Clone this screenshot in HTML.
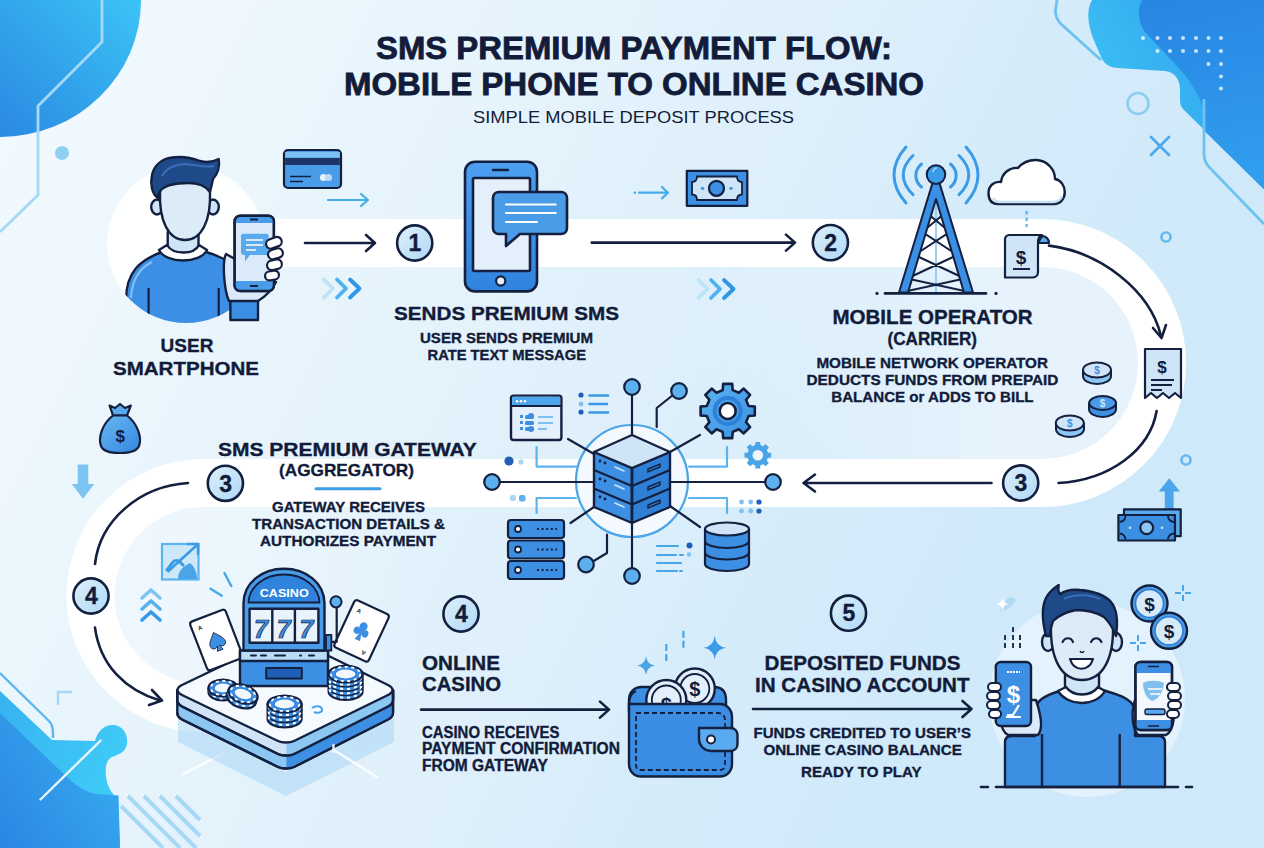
<!DOCTYPE html>
<html><head><meta charset="utf-8">
<style>
html,body{margin:0;padding:0;width:1264px;height:848px;overflow:hidden;background:#e3f1fb;}
svg{display:block;}
text{font-family:"Liberation Sans",sans-serif;fill:#121c3a;}
.b{font-weight:bold;stroke:#121c3a;stroke-width:0.35;}
</style></head>
<body>
<svg width="1264" height="848" viewBox="0 0 1264 848">
<defs>
  <linearGradient id="bg" x1="0" y1="0" x2="1144" y2="572" gradientUnits="userSpaceOnUse">
    <stop offset="0" stop-color="#f3fafe"/>
    <stop offset="0.18" stop-color="#edf7fd"/>
    <stop offset="0.45" stop-color="#e3f2fb"/>
    <stop offset="0.62" stop-color="#ddeffb"/>
    <stop offset="0.76" stop-color="#d4ebfa"/>
    <stop offset="1" stop-color="#cee9fa"/>
  </linearGradient>
  <linearGradient id="blobTL" x1="140" y1="0" x2="0" y2="140" gradientUnits="userSpaceOnUse">
    <stop offset="0" stop-color="#3cc3f6"/>
    <stop offset="1" stop-color="#2a88e2"/>
  </linearGradient>
  <linearGradient id="blobTR" x1="1090" y1="120" x2="1264" y2="20" gradientUnits="userSpaceOnUse">
    <stop offset="0" stop-color="#3dc3f5"/>
    <stop offset="1" stop-color="#2f9ded"/>
  </linearGradient>
  <linearGradient id="blobBL" x1="0" y1="700" x2="120" y2="760" gradientUnits="userSpaceOnUse">
    <stop offset="0" stop-color="#38b3f0"/>
    <stop offset="1" stop-color="#3ecaf7"/>
  </linearGradient>
  <linearGradient id="phoneG" x1="0" y1="0" x2="0" y2="1">
    <stop offset="0" stop-color="#4d9ff0"/>
    <stop offset="1" stop-color="#2f83dd"/>
  </linearGradient>
  <linearGradient id="numG" x1="0" y1="0" x2="1" y2="1">
    <stop offset="0" stop-color="#dcf0fc"/>
    <stop offset="1" stop-color="#b0d8f5"/>
  </linearGradient>
  <filter id="soft" x="-10%" y="-10%" width="120%" height="120%"><feGaussianBlur stdDeviation="2.5"/></filter>
</defs>

<!-- background -->
<rect width="1264" height="848" fill="url(#bg)"/>

<!-- top-left blob -->
<ellipse cx="0" cy="0" rx="141" ry="137" fill="url(#blobTL)"/>
<path d="M102 0 V42 L38 106 V195 L0 232" fill="none" stroke="#a6d9f5" stroke-width="2.8" stroke-linejoin="round"/>
<circle cx="62" cy="153" r="7" fill="#8fd0f2"/>

<!-- top-right blob -->
<path d="M1092 0 C1086 10 1088 25 1093 38 L1101 57 C1104 64 1110 68 1118 68 L1165 71 C1175 72 1180 80 1180 90 L1180 100 C1180 104 1181 107 1183 109 L1264 189 V0 Z" fill="url(#blobTR)"/>
<defs><linearGradient id="blobTR2" x1="1200" y1="0" x2="1240" y2="180" gradientUnits="userSpaceOnUse"><stop offset="0" stop-color="#2887e3"/><stop offset="1" stop-color="#319eee"/></linearGradient></defs>
<path d="M1142 0 C1137 10 1138 22 1145 32 L1175 64 C1190 80 1200 95 1204 112 L1204 130.5 L1264 189.5 V0 Z" fill="url(#blobTR2)"/>
<path d="M1057 0 L1055.5 10 C1055 15 1057 19 1060 23 L1101 60" fill="none" stroke="#6cc3f2" stroke-width="2.8"/>
<path d="M1204 99 V154 C1204 160 1206 164 1210 168 L1264 224" fill="none" stroke="#6cc3f2" stroke-width="2.8"/>
<g fill="#ffffff" opacity="0.75">
  <circle cx="1143" cy="38" r="2"/><circle cx="1157.5" cy="38" r="2"/><circle cx="1170" cy="38" r="2"/><circle cx="1183" cy="38" r="2"/><circle cx="1196" cy="38" r="2"/><circle cx="1208.5" cy="38" r="2"/><circle cx="1221" cy="38" r="2"/>
  <circle cx="1157.5" cy="51" r="2"/><circle cx="1170" cy="51" r="2"/><circle cx="1183" cy="51" r="2"/><circle cx="1196" cy="51" r="2"/><circle cx="1208.5" cy="51" r="2"/><circle cx="1221" cy="51" r="2"/>
  <circle cx="1208.5" cy="64" r="2"/><circle cx="1221" cy="64" r="2"/>
  <circle cx="1221" cy="76.5" r="2"/><circle cx="1221" cy="88.4" r="2"/>
</g>
<circle cx="1138" cy="103.5" r="10.5" fill="none" stroke="#8ccdf2" stroke-width="2.6"/>
<path d="M1151 137 L1169 155 M1169 137 L1151 155" stroke="#4aa8e6" stroke-width="2.6" stroke-linecap="round"/>
<circle cx="1166" cy="237" r="4.6" fill="none" stroke="#5db5ec" stroke-width="2.4"/>
<circle cx="1186" cy="460" r="4.6" fill="none" stroke="#5db5ec" stroke-width="2.4"/>

<!-- bottom-left blob -->
<path d="M0 691 L52 740 L95 741 C98 729 106 724 115 725 C124 727 128 735 127 744 C126 751 119 755 112 757 C106 760 105 768 106 776 C107 787 112 793 118 800 L120 848 H0 Z" fill="url(#blobBL)"/>
<defs><linearGradient id="blobBL2" x1="0" y1="848" x2="110" y2="780" gradientUnits="userSpaceOnUse"><stop offset="0" stop-color="#2a86e2"/><stop offset="1" stop-color="#36a6ef"/></linearGradient></defs>
<path d="M0 713 L66 776 C74 784 84 792 96 794 L118.5 795.5 L120 848 H0 Z" fill="url(#blobBL2)"/>
<path d="M0 673 L49 721 C52 724 53 728 53 733 V738" fill="none" stroke="#5bb8ee" stroke-width="2.4"/>
<path d="M40.5 799.5 L100.6 740.6" stroke="#e8f7fe" stroke-width="2.4" stroke-linecap="round"/>
<path d="M58 705 V692 H72" fill="none" stroke="#a9d6f3" stroke-width="2.4"/>
<g stroke="#9dd4f4" stroke-width="4" opacity="0.85">
  <path d="M121 806 L163 848 M128 796 L180 848 M144 796 L196 848 M160 796 L200 836 M176 796 L200 820"/>
</g>
<path d="M183 774 L224.5 753" stroke="#ffffff" stroke-width="2.4" stroke-linecap="round" opacity="0.9"/>

<!-- loop interior light fill -->
<defs>
  <linearGradient id="loopG" x1="700" y1="0" x2="1000" y2="0" gradientUnits="userSpaceOnUse">
    <stop offset="0" stop-color="#e8f4fc" stop-opacity="0"/>
    <stop offset="1" stop-color="#e6f3fc" stop-opacity="1"/>
  </linearGradient>
  <linearGradient id="loopL" x1="420" y1="0" x2="150" y2="0" gradientUnits="userSpaceOnUse">
    <stop offset="0" stop-color="#eef7fd" stop-opacity="0"/>
    <stop offset="1" stop-color="#eef7fd" stop-opacity="1"/>
  </linearGradient>
</defs>
<path d="M600 260 H1042 A103 103 0 0 1 1042 466 H600 Z" fill="url(#loopG)"/>
<path d="M450 500 H203 A96 96 0 0 0 203 692 H450 Z" fill="url(#loopL)"/>
<!-- white flow band -->
<path d="M265 243 H1042 A120 120 0 0 1 1042 483 H203 A112 112 0 0 0 203 708 H270" fill="none" stroke="#ffffff" stroke-width="48" opacity="1"/>
<!-- white circle behind user -->
<circle cx="186" cy="244" r="79" fill="#ffffff" opacity="0.95"/>
<!-- light circle behind user 2 -->
<circle cx="1087" cy="699" r="98" fill="#e6f3fc" opacity="0.85"/>

<!-- TITLE -->
<text class="b" x="376" y="59" font-size="31" style="stroke-width:0.8" textLength="516" lengthAdjust="spacingAndGlyphs">SMS PREMIUM PAYMENT FLOW:</text>
<text class="b" x="344" y="94.5" font-size="31" style="stroke-width:0.8" textLength="580" lengthAdjust="spacingAndGlyphs">MOBILE PHONE TO ONLINE CASINO</text>
<text x="473" y="123" font-size="17" textLength="321" lengthAdjust="spacingAndGlyphs">SIMPLE MOBILE DEPOSIT PROCESS</text>

<!-- labels -->
<text class="b" x="187" y="352" font-size="19" text-anchor="middle">USER</text>
<text class="b" x="113" y="374.5" font-size="19" textLength="146" lengthAdjust="spacingAndGlyphs">SMARTPHONE</text>

<text class="b" x="394" y="320" font-size="18.6" textLength="225" lengthAdjust="spacingAndGlyphs">SENDS PREMIUM SMS</text>
<text class="b" x="420" y="343.4" font-size="15.2" textLength="173" lengthAdjust="spacingAndGlyphs">USER SENDS PREMIUM</text>
<text class="b" x="427.5" y="359.8" font-size="15.2" textLength="158.5" lengthAdjust="spacingAndGlyphs">RATE TEXT MESSAGE</text>

<text class="b" x="832.4" y="324.4" font-size="20.2" textLength="200.3" lengthAdjust="spacingAndGlyphs">MOBILE OPERATOR</text>
<text class="b" x="887.5" y="345" font-size="17.6" textLength="89.5" lengthAdjust="spacingAndGlyphs">(CARRIER)</text>
<text class="b" x="816.4" y="367.5" font-size="15.2" textLength="231.6" lengthAdjust="spacingAndGlyphs">MOBILE NETWORK OPERATOR</text>
<text class="b" x="806.5" y="384.5" font-size="15.2" textLength="251.9" lengthAdjust="spacingAndGlyphs">DEDUCTS FUNDS FROM PREPAID</text>
<text class="b" x="831.3" y="401.7" font-size="15.2" textLength="202.3" lengthAdjust="spacingAndGlyphs">BALANCE or ADDS TO BILL</text>

<text class="b" x="218" y="455.6" font-size="19" textLength="258.8" lengthAdjust="spacingAndGlyphs">SMS PREMIUM GATEWAY</text>
<text class="b" x="279" y="476" font-size="17" textLength="135" lengthAdjust="spacingAndGlyphs">(AGGREGATOR)</text>
<path d="M316 488.7 H380" stroke="#3a9fe6" stroke-width="3" stroke-linecap="round"/>
<text class="b" x="272" y="512" font-size="14.7" textLength="153" lengthAdjust="spacingAndGlyphs">GATEWAY RECEIVES</text>
<text class="b" x="252" y="529" font-size="14.7" textLength="193" lengthAdjust="spacingAndGlyphs">TRANSACTION DETAILS &amp;</text>
<text class="b" x="260" y="545.6" font-size="14.7" textLength="176" lengthAdjust="spacingAndGlyphs">AUTHORIZES PAYMENT</text>

<text class="b" x="422" y="669.7" font-size="19.8" textLength="78" lengthAdjust="spacingAndGlyphs">ONLINE</text>
<text class="b" x="422" y="691" font-size="19.8" textLength="79" lengthAdjust="spacingAndGlyphs">CASINO</text>
<text class="b" x="422" y="737.5" font-size="15.6" textLength="137.5" lengthAdjust="spacingAndGlyphs">CASINO RECEIVES</text>
<text class="b" x="422" y="754.3" font-size="15.6" textLength="198" lengthAdjust="spacingAndGlyphs">PAYMENT CONFIRMATION</text>
<text class="b" x="422" y="771.4" font-size="15.6" textLength="126" lengthAdjust="spacingAndGlyphs">FROM GATEWAY</text>

<text class="b" x="764.6" y="669.5" font-size="19.8" textLength="195.9" lengthAdjust="spacingAndGlyphs">DEPOSITED FUNDS</text>
<text class="b" x="755" y="692" font-size="19.8" textLength="214.6" lengthAdjust="spacingAndGlyphs">IN CASINO ACCOUNT</text>
<text class="b" x="753.5" y="737.8" font-size="15.2" textLength="217.5" lengthAdjust="spacingAndGlyphs">FUNDS CREDITED TO USER’S</text>
<text class="b" x="763.4" y="755" font-size="15.2" textLength="198.4" lengthAdjust="spacingAndGlyphs">ONLINE CASINO BALANCE</text>
<text class="b" x="801" y="776.7" font-size="15.2" textLength="120.6" lengthAdjust="spacingAndGlyphs">READY TO PLAY</text>


<!-- ===== USER 1 ===== -->
<defs><clipPath id="c1"><circle cx="186" cy="244" r="79"/></clipPath></defs>
<g clip-path="url(#c1)" stroke="#14203f" stroke-width="2.4" stroke-linejoin="round">
  <path d="M126 330 V300 C126 272 140 260 162 252 L206 252 C226 258 238 266 244 280 V330 Z" fill="#3d8fe6"/>
  <path d="M131 298 C132 278 140 268 152 262" fill="none" stroke="#8cc6f4" stroke-width="2" opacity="0.9"/>
  <path d="M148.6 288 V320 M218.7 288 V320" fill="none" stroke-width="2.2"/>
</g>
<g stroke="#14203f" stroke-width="2.4" stroke-linejoin="round">
  <path d="M167.7 232 V250 C175 256 192 256 198.5 250 V232 Z" fill="#cfe4f7"/>
  <path d="M159 250 C166 264 200 264 207 250 L199 245 C194 255 173 255 167 245 Z" fill="#ffffff"/>
  <ellipse cx="157" cy="207" rx="5.8" ry="7.5" fill="#cfe4f7"/>
  <ellipse cx="213" cy="207" rx="5.8" ry="7.5" fill="#cfe4f7"/>
  <path d="M160 192 C159 220 168 240 185 240 C202 240 211 220 210 192 C208 182 198 178 185 178 C172 178 162 182 160 192 Z" fill="#dcebf8"/>
  <path d="M158 198 C152 194 150 184 152 175 C154 165 162 159 172 157.5 C182 156 192 158 200 161 C207 163 213 162 218.7 159 C220 166 218 174 213 179 C212 184 211 188 210 192 C206 186 198 183 188 183 C176 183 166 185 161 190 C159 192 158 195 158 198 Z" fill="#1f4a8a"/>
  <path d="M162 176 C166 168 176 164 186 164 C196 165 205 168 214 166" fill="none" stroke="#3a6fb8" stroke-width="2"/>
</g>
<!-- phone in hand -->
<g stroke="#14203f" stroke-width="2.4" stroke-linejoin="round">
  <path d="M230.4 300 H258 V320 H230.4 Z" fill="#3d8fe6"/>
  <path d="M226 254 C222 262 224 290 229 301 H258 C266 296 272 290 276 282 Z" fill="#dbeafa"/>
  <rect x="234.6" y="215.8" width="39.3" height="75.2" rx="5.5" fill="#dbeafa"/>
  <path d="M234.6 223 V221.3 C234.6 218 237 215.8 240 215.8 H268.4 C271.5 215.8 273.9 218 273.9 221.3 V223 Z" fill="#4a9be8" stroke="none"/>
  <path d="M234.6 281 H273.9 V285.5 C273.9 288.5 271.5 291 268.4 291 H240 C237 291 234.6 288.5 234.6 285.5 Z" fill="#4a9be8" stroke="none"/>
  <rect x="234.6" y="215.8" width="39.3" height="75.2" rx="5.5" fill="none"/>
  <path d="M250 219.5 H258 M250 286 H258" stroke-width="1.8"/>
  <path d="M241 236 C241 234.5 242 233.8 243.5 233.8 H266 C267.5 233.8 268.6 234.5 268.6 236 V252.5 C268.6 254 267.5 255 266 255 H250 L245 261.4 V255 H243.5 C242 255 241 254 241 252.5 Z" fill="#5aaaf0" stroke="none"/>
  <path d="M246 240 H263 M246 245 H263 M246 250 H256" stroke="#ffffff" stroke-width="1.6"/>
  <rect x="266" y="238" width="16" height="9.5" rx="4.75" fill="#ffffff" transform="rotate(-20 274 243)" stroke-width="2.2"/>
  <rect x="268" y="249" width="15" height="9.5" rx="4.75" fill="#ffffff" transform="rotate(-15 275.5 254)" stroke-width="2.2"/>
  <rect x="267" y="260" width="15" height="9.5" rx="4.75" fill="#ffffff" transform="rotate(-12 274.5 265)" stroke-width="2.2"/>
  <rect x="265" y="271" width="14" height="9" rx="4.5" fill="#ffffff" transform="rotate(-10 272 275.5)" stroke-width="2.2"/>
</g>

<!-- card icon -->
<g stroke="#14203f" stroke-width="2.2" stroke-linejoin="round">
  <rect x="284" y="150" width="57" height="38" rx="4" fill="#4a9be8"/>
  <rect x="285.2" y="152" width="54.6" height="5.5" fill="#7cc0f4" stroke="none"/>
  <rect x="285.2" y="158" width="54.6" height="7" fill="#1d3566" stroke="none"/>
  <path d="M290 176.5 H311 M290 181.5 H303" stroke-width="1.6"/>
  <circle cx="323.5" cy="177.5" r="3.6" fill="#e6f3fd" stroke="none"/>
  <circle cx="328.5" cy="177.5" r="3.6" fill="#b9dbf6" stroke="none"/>
</g>
<!-- light arrow + chevrons row 1 -->
<path d="M328 200 H368 M361 194 L368 200 L361 206" fill="none" stroke="#45ade9" stroke-width="2.2" stroke-linecap="round" stroke-linejoin="round"/>
<g fill="none" stroke-width="3.8" stroke-linecap="round" stroke-linejoin="round">
  <path d="M324 279.5 L333 288.5 L324 297.5" stroke="#bde3f7"/>
  <path d="M337 279.5 L346 288.5 L337 297.5" stroke="#4db3ee"/>
  <path d="M350 279.5 L359.5 288.5 L350 297.5" stroke="#2f97e6"/>
</g>
<!-- dark arrow 1 -->
<path d="M305 243 H375 M366 235 L375 243 L366 251" fill="none" stroke="#14203f" stroke-width="2.6" stroke-linecap="round" stroke-linejoin="round"/>


<!-- number circles -->
<g stroke="#14203f" stroke-width="2.6" fill="url(#numG)">
  <circle cx="414.7" cy="243" r="17.6"/>
  <circle cx="830.4" cy="242.6" r="17.6"/>
  <circle cx="1020.7" cy="483" r="17.6"/>
  <circle cx="225.4" cy="483.3" r="17.6"/>
  <circle cx="91" cy="596" r="17.6"/>
  <circle cx="461" cy="614" r="17.6"/>
  <circle cx="848.5" cy="613.2" r="17.6"/>
</g>
<g class="b" font-size="23" text-anchor="middle" style="font-weight:bold">
  <text x="415" y="251" font-weight="bold">1</text>
  <text x="830.7" y="250.8" font-weight="bold">2</text>
  <text x="1021" y="491.2" font-weight="bold">3</text>
  <text x="225.7" y="491.5" font-weight="bold">3</text>
  <text x="91.3" y="604.2" font-weight="bold">4</text>
  <text x="461.3" y="622.2" font-weight="bold">4</text>
  <text x="848.8" y="621.4" font-weight="bold">5</text>
</g>

<!-- PHONE 1 -->
<g stroke="#14203f" stroke-width="2.6" stroke-linejoin="round">
  <rect x="465" y="161.7" width="72" height="129.7" rx="10" fill="url(#phoneG)"/>
  <rect x="473" y="178" width="57" height="93" rx="1.5" fill="#e3f0fb"/>
  <path d="M493 170 H508" stroke-width="2.4" stroke-linecap="round"/>
  <circle cx="500.7" cy="281" r="4.6" fill="#e3f0fb" stroke-width="2.2"/>
  <path d="M499 192 H561 C564.5 192 567 194.5 567 198 V228 C567 231.5 564.5 234 561 234 H520 L506 246 V234 H499 C495.5 234 493 231.5 493 228 V198 C493 194.5 495.5 192 499 192 Z" fill="#4a9be8"/>
  <path d="M506 204.5 H555.7 M506 213 H555.7 M506 222 H537" stroke="#ffffff" stroke-width="2.2" stroke-linecap="round"/>
</g>
<!-- dark arrow 2 -->
<path d="M591.7 242.6 H795 M786 234.6 L795 242.6 L786 250.6" fill="none" stroke="#14203f" stroke-width="2.6" stroke-linecap="round" stroke-linejoin="round"/>
<!-- money bill -->
<g stroke="#14203f" stroke-width="2.2" stroke-linejoin="round">
  <rect x="686.8" y="170.9" width="60.5" height="34.9" fill="#3d8fe3"/>
  <path d="M697 176.5 H737 C737 180 739 182 742 182 V194.5 C739 194.5 737 196.5 737 200 H697 C697 196.5 695 194.5 692 194.5 V182 C695 182 697 180 697 176.5 Z" fill="#cfe5f7" stroke-width="1.8"/>
  <circle cx="716.5" cy="188.3" r="7.5" fill="#3d8fe3"/>
  <circle cx="702.5" cy="188.3" r="1.6" fill="#3d8fe3" stroke="none"/>
  <circle cx="731" cy="188.3" r="1.6" fill="#3d8fe3" stroke="none"/>
</g>
<path d="M639 192.7 H668 M662 187 L668 192.7 L662 198.4" fill="none" stroke="#45ade9" stroke-width="2.2" stroke-linecap="round" stroke-linejoin="round"/>
<circle cx="634.8" cy="192.7" r="1.3" fill="#45ade9"/>
<g fill="none" stroke-width="3.8" stroke-linecap="round" stroke-linejoin="round">
  <path d="M698.5 280 L707.5 289 L698.5 298" stroke="#bde3f7"/>
  <path d="M711 280 L720 289 L711 298" stroke="#4db3ee"/>
  <path d="M724 280 L733.5 289 L724 298" stroke="#2f97e6"/>
</g>

<!-- TOWER -->
<g fill="none" stroke="#3b9be8" stroke-width="3" stroke-linecap="round">
  <path d="M906 147 C890 165 890 185 906 203"/>
  <path d="M913 155.5 C900 168 900 182 913 194.7"/>
  <path d="M921.5 164 C914 170 914 181 921.5 187"/>
  <path d="M966 147 C982 165 982 185 966 203"/>
  <path d="M959 155.5 C972 168 972 182 959 194.7"/>
  <path d="M950.5 164 C958 170 958 181 950.5 187"/>
</g>
<path d="M936 186 V292" stroke="#8fcaf2" stroke-width="1.8"/>
<path d="M927.8 213.8 L949.9 231.9 M944.2 213.8 L922.1 231.9 M922.1 231.9 L957.3 255 M949.9 231.9 L914.7 255 M914.7 255 L964.7 278.5 M957.3 255 L907.3 278.5 M907.3 278.5 L969.0 292 M964.7 278.5 L903.0 292 M933.5 196 L944.2 213.8 M938.5 196 L927.8 213.8 " stroke="#14203f" stroke-width="2" fill="none" stroke-linecap="round"/>
<g stroke="#14203f" stroke-width="2" stroke-linejoin="round">
  <path d="M932.5 183 L899 292.5 H908 L936 199 L964 292.5 H973 L939.5 183 Z" fill="#3b8fe4"/>
  <circle cx="936" cy="174.6" r="9.3" fill="#3b9be8"/>
</g>
<path d="M933 172 C933 170 935 168 937 168" stroke="#9fd4f6" stroke-width="1.6" fill="none"/>
<path d="M885 293.4 H986" stroke="#14203f" stroke-width="2.6" stroke-linecap="round"/>
<circle cx="877" cy="293.4" r="1.6" fill="#14203f"/><circle cx="996" cy="293.4" r="1.6" fill="#14203f"/>

<!-- cloud -->
<path d="M998 204 C990 204 988.5 198 988.5 193 C988.5 186 994 181 1001 182 C1002 173 1010 167 1018 168 C1023 162 1030 159.7 1037 160 C1048 161 1055 170 1055 179 C1061 180 1064.8 186 1064.8 192 C1064.8 199 1060 204 1054 204 Z" fill="#ffffff" stroke="#14203f" stroke-width="2.4" stroke-linejoin="round"/>
<path d="M993 198 C995 202 998 202 1003 202 H1054 C1058 202 1061 199 1062 196" fill="none" stroke="#c5e1f6" stroke-width="2.5"/>
<path d="M1026.6 211 V227" stroke="#45ade9" stroke-width="2" stroke-dasharray="3.5 3"/>
<!-- receipt 1 -->
<g stroke="#14203f" stroke-width="2.2" stroke-linejoin="round">
  <path d="M1042 236 C1046 236 1049 239 1049 243 H1038 Z" fill="#5aaaf0"/>
  <path d="M1009 235 H1042 C1038 236 1038 240 1038 243 V272 C1038 275 1036 277.5 1033 277.5 H1005 V239 C1005 237 1007 235 1009 235 Z" fill="#cfe5f7"/>
  <path d="M1013 269 H1030" stroke-width="2"/>
</g>
<text x="1021" y="264" font-size="19" text-anchor="middle" font-weight="bold">$</text>
<!-- curved arrows right -->
<path d="M1049 245.6 C1100 252 1150 290 1161 336" fill="none" stroke="#14203f" stroke-width="2.6" stroke-linecap="round"/>
<path d="M1153 328 L1161.5 338 L1166 325" fill="none" stroke="#14203f" stroke-width="2.6" stroke-linecap="round" stroke-linejoin="round"/>
<path d="M1156.6 411 C1150 450 1110 480 1058.5 483" fill="none" stroke="#14203f" stroke-width="2.6" stroke-linecap="round"/>
<!-- receipt 2 -->
<g stroke="#14203f" stroke-width="2.2" stroke-linejoin="round">
  <path d="M1145 349 H1181 V398 L1175 393 L1169 398 L1163 393 L1157 398 L1151 393 L1145 398 Z" fill="#cfe5f7"/>
  <path d="M1151 380 H1174 M1151 385 H1172 M1151 390 H1162" stroke-width="1.8"/>
</g>
<text x="1162" y="373" font-size="17" text-anchor="middle" font-weight="bold">$</text>
<!-- coins -->
<g stroke="#14203f" stroke-width="2" stroke-linejoin="round">
  <path d="M1083 370 V376 C1083 380.5 1089 384 1097 384 C1105 384 1111 380.5 1111 376 V370" fill="#8cc6f2"/>
  <ellipse cx="1097" cy="370" rx="14" ry="7.5" fill="#cfe5f7"/>
  <path d="M1089 403 V409 C1089 413.5 1095 417 1102.6 417 C1110 417 1116 413.5 1116 409 V403" fill="#3d8fe3"/>
  <ellipse cx="1102.6" cy="403" rx="13.5" ry="7" fill="#4a9be8"/>
  <path d="M1056 423 V429 C1056 433.5 1062 437 1069.8 437 C1077.5 437 1084 433.5 1084 429 V423" fill="#8cc6f2"/>
  <ellipse cx="1069.8" cy="423" rx="14" ry="7.5" fill="#cfe5f7"/>
</g>
<g font-size="10" text-anchor="middle" font-weight="bold" style="fill:#3d8fe3">
  <text x="1097" y="373.5" style="fill:#3d8fe3">$</text>
  <text x="1102.6" y="406.5" style="fill:#cfe5f7">$</text>
  <text x="1069.8" y="426.5" style="fill:#3d8fe3">$</text>
</g>


<!-- ===== GATEWAY HUB ===== -->
<circle cx="632" cy="481" r="56" fill="#f3f9fe" stroke="#4aa5e8" stroke-width="2.2"/>
<!-- light L connectors -->
<g fill="none" stroke="#5fb3ec" stroke-width="2.2" stroke-linecap="round" stroke-linejoin="round">
  <path d="M536.6 447 V466.6 H576"/>
  <path d="M536.6 513 V498 H576"/>
  <path d="M727 447 V466.6 H689"/>
  <path d="M727 513 V498 H689"/>
</g>
<g fill="none" stroke="#14203f" stroke-width="2.2" stroke-linecap="round" stroke-linejoin="round">
  <path d="M632 395 V436"/>
  <path d="M632 523 V568"/>
  <path d="M500 482 H594"/>
  <path d="M670 482 H765"/>
  <path d="M568 439 L594 454"/>
  <path d="M700 435 L670 452"/>
  <path d="M570.5 523 L594 507"/>
  <path d="M700 527 L670 506"/>
  <path d="M656.7 427 V408 L673 395"/>
  <path d="M607 534.5 V553 L592 562"/>
</g>
<g stroke="#14203f" stroke-width="2.2" fill="#5db0ee">
  <circle cx="632" cy="387" r="7.8"/>
  <circle cx="679" cy="391" r="7.8"/>
  <circle cx="492" cy="482" r="7.8"/>
  <circle cx="773" cy="482" r="7.8"/>
  <circle cx="586" cy="564.5" r="7.8"/>
  <circle cx="632" cy="576" r="7.8"/>
</g>
<!-- isometric server stack -->
<g stroke="#14203f" stroke-width="2.4" stroke-linejoin="round">
  <path d="M594 452 V507 L632 523 V468 Z" fill="#3d8fe3"/>
  <path d="M670 452 V507 L632 523 V468 Z" fill="#2f7fd6"/>
  <path d="M632 435 L670 452 L632 468 L594 452 Z" fill="#cfe5f7"/>
  <path d="M594 470 L632 486 L670 470 M594 488.5 L632 504.5 L670 488.5" fill="none"/>
  <path d="M632 468 V523" fill="none"/>
</g>
<g fill="#14203f">
  <circle cx="600" cy="461" r="1.4"/><circle cx="605" cy="463" r="1.4"/>
  <circle cx="600" cy="479" r="1.4"/><circle cx="605" cy="481" r="1.4"/>
  <circle cx="600" cy="497" r="1.4"/><circle cx="605" cy="499" r="1.4"/>
</g>
<g stroke="#cfe5f7" stroke-width="1.6" stroke-linecap="round">
  <path d="M615 467 L624 471 M615 485 L624 489 M615 503 L624 507"/>
</g>
<g stroke="#14203f" stroke-width="1.4" fill="none">
  <path d="M648 469 L660 464 V467 L648 472 Z M648 487 L660 482 V485 L648 490 Z M648 505 L660 500 V503 L648 508 Z"/>
</g>
<!-- browser icon -->
<g stroke="#14203f" stroke-width="2" stroke-linejoin="round">
  <rect x="511" y="395.6" width="50.4" height="44.4" rx="2.5" fill="#e4f0fb" stroke-width="2.4"/>
  <path d="M512.2 396.8 H560.2 V406 H512.2 Z" fill="#4aa5ea" stroke="none"/>
  <path d="M511 406 H561.4" />
</g>
<g fill="#ffffff"><circle cx="517" cy="401.3" r="1.3"/><circle cx="521" cy="401.3" r="1.3"/><circle cx="525" cy="401.3" r="1.3"/></g>
<g fill="#3d8fe3">
  <rect x="520" y="415" width="3" height="3"/><rect x="520" y="421" width="3" height="3"/><rect x="520" y="427" width="3" height="3"/>
  <rect x="525" y="415" width="9" height="4" rx="1.5"/><rect x="525" y="421" width="9" height="4" rx="1.5"/><rect x="525" y="427" width="9" height="4" rx="1.5"/><circle cx="531" cy="416" r="3"/><circle cx="531" cy="429" r="3"/>
</g>
<g stroke="#7fc0ef" stroke-width="1.8"><path d="M538 417 H553 M538 423 H553 M538 429 H547"/></g>
<!-- list icon -->
<g fill="#1f5fb5"><circle cx="581" cy="395" r="2.6"/><circle cx="581" cy="412" r="2.6"/></g>
<circle cx="581" cy="404" r="2.4" fill="#7fc0ef"/>
<g stroke="#3a98e4" stroke-width="2.6" stroke-linecap="round"><path d="M589.5 395.5 H608 M589.5 404 H607 M589.5 412.5 H608"/></g>
<!-- gear big -->
<defs><linearGradient id="gearG" x1="0" y1="0" x2="1" y2="1"><stop offset="0" stop-color="#5cb3f0"/><stop offset="1" stop-color="#3a92e4"/></linearGradient></defs>
<path d="M722.7 390.1 L723.2 383.9 L732.2 383.9 L732.7 390.1 L738.9 392.7 L743.7 388.6 L750.1 395.0 L746.0 399.8 L748.6 406.0 L754.8 406.5 L754.8 415.5 L748.6 416.0 L746.0 422.2 L750.1 427.0 L743.7 433.4 L738.9 429.3 L732.7 431.9 L732.2 438.1 L723.2 438.1 L722.7 431.9 L716.5 429.3 L711.7 433.4 L705.3 427.0 L709.4 422.2 L706.8 416.0 L700.6 415.5 L700.6 406.5 L706.8 406.0 L709.4 399.8 L705.3 395.0 L711.7 388.6 L716.5 392.7 Z" fill="url(#gearG)" stroke="#14203f" stroke-width="2.6" stroke-linejoin="round"/>
<circle cx="727.7" cy="411" r="13" fill="none" stroke="#2f80d8" stroke-width="4"/>
<circle cx="727.7" cy="411" r="8" fill="#ffffff" stroke="#14203f" stroke-width="2.6"/>
<!-- gear small -->
<path d="M755.3 445.0 L755.4 441.9 L760.2 441.9 L760.3 445.0 L763.2 446.2 L765.5 444.1 L768.9 447.5 L766.8 449.8 L768.0 452.7 L771.1 452.8 L771.1 457.6 L768.0 457.7 L766.8 460.6 L768.9 462.9 L765.5 466.3 L763.2 464.2 L760.3 465.4 L760.2 468.5 L755.4 468.5 L755.3 465.4 L752.4 464.2 L750.1 466.3 L746.7 462.9 L748.8 460.6 L747.6 457.7 L744.5 457.6 L744.5 452.8 L747.6 452.7 L748.8 449.8 L746.7 447.5 L750.1 444.1 L752.4 446.2 Z" fill="#4aa5e8" stroke="none"/>
<circle cx="757.8" cy="455.2" r="5.3" fill="#eef7fd"/>
<!-- dots near hub -->
<circle cx="509" cy="461" r="4.6" fill="#1f5fb5"/><circle cx="521" cy="462" r="2.6" fill="#a9d6f3"/>
<rect x="510" y="495" width="6" height="6" rx="2" fill="#a9d6f3"/><rect x="519" y="495" width="6.5" height="6.5" rx="2" fill="#5fb3ec"/>
<g fill="#7fc0ef"><circle cx="741.5" cy="502" r="2.4"/><circle cx="750.7" cy="502" r="2.4"/><circle cx="741.5" cy="511" r="2.4"/><circle cx="750.7" cy="511" r="2.4"/></g>
<g fill="#1f5fb5"><circle cx="759" cy="502" r="2.6"/><circle cx="759" cy="511" r="2.6"/></g>
<!-- server rack bottom-left -->
<g stroke="#14203f" stroke-width="2.2" stroke-linejoin="round">
  <rect x="508" y="520" width="56" height="18" rx="3" fill="#3d8fe3"/>
  <rect x="508" y="540.5" width="56" height="18" rx="3" fill="#3d8fe3"/>
  <rect x="508" y="561" width="56" height="18" rx="3" fill="#3d8fe3"/>
  <circle cx="518" cy="529" r="3" fill="#ffffff" stroke-width="1.8"/>
  <circle cx="518" cy="549.5" r="3" fill="#ffffff" stroke-width="1.8"/>
  <circle cx="518" cy="570" r="3" fill="#ffffff" stroke-width="1.8"/>
</g>
<g stroke="#14203f" stroke-width="2" stroke-dasharray="2 2.6"><path d="M537 529 H557 M537 549.5 H557 M537 570 H557"/></g>
<!-- database -->
<g stroke="#14203f" stroke-width="2.2" stroke-linejoin="round">
  <path d="M705 529 V564 C705 568 715 571 727 571 C739 571 749 568 749 564 V529" fill="#3d8fe3"/>
  <path d="M705 541 C705 545 715 548 727 548 C739 548 749 545 749 541 M705 552.5 C705 556.5 715 559.5 727 559.5 C739 559.5 749 556.5 749 552.5" fill="none"/>
  <ellipse cx="727" cy="529" rx="22" ry="6.5" fill="#cfe5f7"/>
</g>
<!-- lines icon bottom -->
<g stroke="#45a6ea" stroke-width="2.2" stroke-linecap="round">
  <path d="M657 546 H678 M657 555 H676 M680 555 H683 M657 563 H681 M657 571 H677 M680 571 H682"/>
</g>
<circle cx="689.5" cy="545.5" r="3" fill="#1f5fb5"/><circle cx="689" cy="554.5" r="2.2" fill="#7fc0ef"/>

<!-- ===== LEFT SIDE ===== -->
<!-- money bag -->
<defs><linearGradient id="bagG" x1="0" y1="0" x2="1" y2="1"><stop offset="0" stop-color="#6ab8f2"/><stop offset="1" stop-color="#3187df"/></linearGradient></defs>
<g stroke="#14203f" stroke-width="2.2" stroke-linejoin="round">
  <path d="M113 415.5 L109.6 405.6 L115 408 L120 404 L125 408 L130.8 405.6 L127 415.5 Z" fill="#5aaaf0"/>
  <path d="M113 415.5 C102 424 98 438 101 446 C103 451 110 453 120 453 C130 453 137 451 139 446 C142 438 138 424 127 415.5 Z" fill="url(#bagG)"/>
</g>
<text x="120.2" y="442" font-size="17" text-anchor="middle" font-weight="bold">$</text>
<!-- light down arrow -->
<path d="M77.7 464.6 H88.3 V484 H94.2 L83 498.8 L71.8 484 H77.7 Z" fill="#7cc4f2"/>
<!-- chart icon -->
<rect x="162" y="544" width="36.5" height="35.5" fill="#cde8f9" stroke="#5ab5ee" stroke-width="2.2"/>
<path d="M178 579 C178 570 184 566 190 563 C194 566 197 572 197 579 Z" fill="#4aa5e8"/>
<path d="M167 570 L173 562 C175 560 178 560 180 562 L183 565" fill="none" stroke="#3e99e6" stroke-width="3" stroke-linecap="round"/>
<path d="M168.5 571 L197 545 M188 544 H198 V554" fill="none" stroke="#3e99e6" stroke-width="2.6" stroke-linecap="round" stroke-linejoin="round"/>
<!-- chevrons up -->
<g fill="none" stroke-width="3.6" stroke-linecap="round" stroke-linejoin="round">
  <path d="M142 598 L151 590 L160 598" stroke="#7cc4f2"/>
  <path d="M142 609 L151 601 L160 609" stroke="#58b1ee"/>
  <path d="M142 620 L151 612 L160 620" stroke="#3799e7"/>
</g>
<!-- left curved arrows -->
<path d="M188 483 C140 486 100 520 95 564" fill="none" stroke="#14203f" stroke-width="2.6" stroke-linecap="round"/>
<path d="M95 627.6 C100 665 125 690 160 700.5" fill="none" stroke="#14203f" stroke-width="2.6" stroke-linecap="round"/>
<path d="M152 690 L162 700.5 L149 705" fill="none" stroke="#14203f" stroke-width="2.6" stroke-linecap="round" stroke-linejoin="round"/>


<!-- ===== CASINO ===== -->
<!-- reflection -->
<path d="M178 718 L286 772 L394 718 V742 L286 796 L178 742 Z" fill="#a9d6f5" opacity="0.55"/>
<!-- platform -->
<g stroke="#14203f" stroke-width="2.4" stroke-linejoin="round">
  <path d="M177.3 690 V712.8 C177.3 716 179 718 182 719.5 L278 767 C282 769 290 769 294 767 L388 719.5 C391 718 393 716 393 712.8 V690 Z" fill="#8cc6f2"/>
  <path d="M286.4 744 V769 L388 719.5 C391 718 393 716 393 712.8 V690 Z" fill="#3d8fe3" stroke="none"/>
  <path d="M177.3 690 V700 C177.3 703 179 705 182 706.5 L278 754 C282 756 290 756 294 754 L388 706.5 C391 705 393 703 393 700 V690" fill="#cfe5f7"/>
  <path d="M286.4 756 V744 L393 690 V700 C393 703 391 705 388 706.5 L294 754 C292 755 290 756 286.4 756 Z" fill="#8cc6f2" stroke="none"/>
  <path d="M177.3 690 V700 C177.3 703 179 705 182 706.5 L278 754 C282 756 290 756 294 754 L388 706.5 C391 705 393 703 393 700 V690" fill="none"/>
  <path d="M177.3 712.8 C177.3 716 179 718 182 719.5 L278 767 C282 769 290 769 294 767 L388 719.5 C391 718 393 716 393 712.8 V690" fill="none"/>
  <path d="M182 685 L278 639 C282 637 290 637 294 639 L388 685 C394 688 394 692 388 695 L294 741 C290 743 282 743 278 741 L182 695 C176 692 176 688 182 685 Z" fill="#f5faff"/>
</g>
<!-- left card -->
<g transform="translate(216 639) rotate(-21)">
  <rect x="-19" y="-25" width="38" height="52" rx="3" fill="#ffffff" stroke="#14203f" stroke-width="2.2"/>
  <text x="-13" y="-14" font-size="6" font-weight="bold">A</text>
  <path d="M0 -7 C-4 -2 -8 1 -8 5 C-8 9 -3 10 -1 7 L-3 12 H3 L1 7 C3 10 8 9 8 5 C8 1 4 -2 0 -7 Z" fill="#3d8fe3" stroke="#14203f" stroke-width="0.8"/>
</g>
<!-- right card -->
<g transform="translate(362 630) rotate(25)">
  <rect x="-19" y="-25" width="38" height="52" rx="3" fill="#ffffff" stroke="#14203f" stroke-width="2.2"/>
  <text x="-13" y="-14" font-size="6" font-weight="bold">A</text>
  <text x="13" y="22" font-size="6" font-weight="bold" transform="rotate(180 13 20)">A</text>
  <path d="M0 -8 C-4 -8 -5 -3 -3 -1 C-7 -3 -9 2 -7 5 C-5 7 -2 6 -1 4 L-3 11 H3 L1 4 C2 6 5 7 7 5 C9 2 7 -3 3 -1 C5 -3 4 -8 0 -8 Z" fill="#3d8fe3"/>
</g>
<!-- sparkle dashes -->
<path d="M224.4 573 L231.3 586 M210.5 588.7 L221.8 595.7" stroke="#45a6ea" stroke-width="2.4" stroke-linecap="round"/>
<!-- slot machine -->
<g stroke="#14203f" stroke-width="2.4" stroke-linejoin="round">
  <path d="M240 650.5 H328 V686 H240 Z" fill="#3d8fe3"/>
  <path d="M240 650.5 H328 V661 H240 Z" fill="#b9dcf6"/>
  <path d="M243.5 650.5 V603.5 C243.5 583 262 568.7 284 568.7 C306 568.7 324.5 583 324.5 603.5 V650.5 Z" fill="#4a9be8"/>
  <path d="M248.5 602.5 C249 587 264 574.5 284 574.5 C304 574.5 319 587 319.5 602.5 Z" fill="#2f83dd" stroke-width="1.8"/>
  <rect x="249.6" y="608.7" width="68.8" height="34" fill="#e8f3fc"/>
  <path d="M272.3 608.7 V642.7 M294.9 608.7 V642.7" />
  <rect x="266.2" y="668" width="35.6" height="10.4" fill="#1f5fb5" stroke-width="2"/>
  <path d="M336.7 603 V641.8 H331" fill="none" stroke-width="2.2"/>
  <rect x="326" y="634.8" width="5.4" height="15.7" fill="#3d8fe3" stroke-width="1.8"/>
  <circle cx="336" cy="601.8" r="5.6" fill="#5db0ee" stroke-width="2"/>
</g>
<g stroke="#14203f" stroke-width="2" stroke-linecap="round"><path d="M251 655.5 H256 M261 655.5 H266 M275 655.5 H285 M300 655.5 H301 M309 655.5 H314"/></g>
<text x="284.2" y="596.5" font-size="11.5" text-anchor="middle" font-weight="bold" style="fill:#ffffff" textLength="49" lengthAdjust="spacingAndGlyphs">CASINO</text>
<g font-size="25" font-weight="bold" text-anchor="middle" style="fill:#3d8fe3" font-style="italic">
  <text x="261" y="638" style="fill:#3d8fe3;stroke:#14203f;stroke-width:0.7">7</text>
  <text x="283.6" y="638" style="fill:#3d8fe3;stroke:#14203f;stroke-width:0.7">7</text>
  <text x="306.5" y="638" style="fill:#3d8fe3;stroke:#14203f;stroke-width:0.7">7</text>
</g>
<!-- chips -->
<g>
<path d="M208.5 688 V692 A14.5 8.5 0 0 0 237.5 692 V688 Z" fill="#3d8fe3" stroke="#14203f" stroke-width="2.2" stroke-linejoin="round"/>
<path d="M209.5 690.0 A13.5 8.5 0 0 0 236.5 690.0" fill="none" stroke="#ffffff" stroke-width="2" stroke-dasharray="3 4"/>
<ellipse cx="223" cy="688" rx="14.5" ry="8.5" fill="#3d8fe3" stroke="#14203f" stroke-width="2.2"/>
<ellipse cx="223" cy="688" rx="12.3" ry="7.1" fill="none" stroke="#ffffff" stroke-width="1.8" stroke-dasharray="3 3.5"/>
<ellipse cx="223" cy="688" rx="9.0" ry="5.1" fill="#f2f8fe" stroke="#2f7fd6" stroke-width="1.2"/>
</g>
<g transform="rotate(18 243 694)">
<path d="M228 694 V699 A15 9 0 0 0 258 699 V694 Z" fill="#3d8fe3" stroke="#14203f" stroke-width="2.2" stroke-linejoin="round"/>
<path d="M229 696.5 A14 9 0 0 0 257 696.5" fill="none" stroke="#ffffff" stroke-width="2" stroke-dasharray="3 4"/>
<ellipse cx="243" cy="694" rx="15" ry="9" fill="#3d8fe3" stroke="#14203f" stroke-width="2.2"/>
<ellipse cx="243" cy="694" rx="12.8" ry="7.6" fill="none" stroke="#ffffff" stroke-width="1.8" stroke-dasharray="3 3.5"/>
<ellipse cx="243" cy="694" rx="9.3" ry="5.4" fill="#f2f8fe" stroke="#2f7fd6" stroke-width="1.2"/>
</g>
<g>
<path d="M267.6 704 V719 A17 8.5 0 0 0 301.6 719 V704 Z" fill="#3d8fe3" stroke="#14203f" stroke-width="2.2" stroke-linejoin="round"/>
<path d="M267.6 709.0 A17 8.5 0 0 0 301.6 709.0" fill="none" stroke="#14203f" stroke-width="1.4"/>
<path d="M267.6 714.0 A17 8.5 0 0 0 301.6 714.0" fill="none" stroke="#14203f" stroke-width="1.4"/>
<path d="M268.6 706.5 A16 8.5 0 0 0 300.6 706.5" fill="none" stroke="#ffffff" stroke-width="2" stroke-dasharray="3 4"/>
<path d="M268.6 711.5 A16 8.5 0 0 0 300.6 711.5" fill="none" stroke="#ffffff" stroke-width="2" stroke-dasharray="3 4"/>
<path d="M268.6 716.5 A16 8.5 0 0 0 300.6 716.5" fill="none" stroke="#ffffff" stroke-width="2" stroke-dasharray="3 4"/>
<ellipse cx="284.6" cy="704" rx="17" ry="8.5" fill="#3d8fe3" stroke="#14203f" stroke-width="2.2"/>
<ellipse cx="284.6" cy="704" rx="14.8" ry="7.1" fill="none" stroke="#ffffff" stroke-width="1.8" stroke-dasharray="3 3.5"/>
<ellipse cx="284.6" cy="704" rx="10.5" ry="5.1" fill="#f2f8fe" stroke="#2f7fd6" stroke-width="1.2"/>
</g>
<g>
<path d="M328.6 674 V691.5 A17 8.5 0 0 0 362.6 691.5 V674 Z" fill="#3d8fe3" stroke="#14203f" stroke-width="2.2" stroke-linejoin="round"/>
<path d="M328.6 678.375 A17 8.5 0 0 0 362.6 678.375" fill="none" stroke="#14203f" stroke-width="1.4"/>
<path d="M328.6 682.75 A17 8.5 0 0 0 362.6 682.75" fill="none" stroke="#14203f" stroke-width="1.4"/>
<path d="M328.6 687.125 A17 8.5 0 0 0 362.6 687.125" fill="none" stroke="#14203f" stroke-width="1.4"/>
<path d="M329.6 676.1875 A16 8.5 0 0 0 361.6 676.1875" fill="none" stroke="#ffffff" stroke-width="2" stroke-dasharray="3 4"/>
<path d="M329.6 680.5625 A16 8.5 0 0 0 361.6 680.5625" fill="none" stroke="#ffffff" stroke-width="2" stroke-dasharray="3 4"/>
<path d="M329.6 684.9375 A16 8.5 0 0 0 361.6 684.9375" fill="none" stroke="#ffffff" stroke-width="2" stroke-dasharray="3 4"/>
<path d="M329.6 689.3125 A16 8.5 0 0 0 361.6 689.3125" fill="none" stroke="#ffffff" stroke-width="2" stroke-dasharray="3 4"/>
<ellipse cx="345.6" cy="674" rx="17" ry="8.5" fill="#3d8fe3" stroke="#14203f" stroke-width="2.2"/>
<ellipse cx="345.6" cy="674" rx="14.8" ry="7.1" fill="none" stroke="#ffffff" stroke-width="1.8" stroke-dasharray="3 3.5"/>
<ellipse cx="345.6" cy="674" rx="10.5" ry="5.1" fill="#f2f8fe" stroke="#2f7fd6" stroke-width="1.2"/>
</g>
<path d="M312 708 C316 705 321 706 322 709 C323 712 318 714 314 712" fill="none" stroke="#4aa5e8" stroke-width="2"/>


<!-- arrows bottom -->
<path d="M421 709.6 H609 M600 701.6 L609 709.6 L600 717.6" fill="none" stroke="#14203f" stroke-width="2.6" stroke-linecap="round" stroke-linejoin="round"/>
<path d="M753 709 H971.5 M962.5 701 L971.5 709 L962.5 717" fill="none" stroke="#14203f" stroke-width="2.6" stroke-linecap="round" stroke-linejoin="round"/>

<!-- ===== WALLET ===== -->
<g stroke="#14203f" stroke-width="2.4" stroke-linejoin="round">
  <path d="M629 700 C629 692 634 687 642 687 H714 C722 687 726 692 726 700 V712 H629 Z" fill="#3d8fe3"/>
  <circle cx="694.8" cy="688.5" r="20" fill="#e3f0fb"/>
  <circle cx="694.8" cy="688.5" r="14.5" fill="none" stroke-width="1.8"/>
  <circle cx="666.3" cy="700" r="20" fill="#e3f0fb"/>
  <circle cx="666.3" cy="700" r="14.5" fill="none" stroke-width="1.8"/>
</g>
<text x="694.8" y="696" font-size="20" text-anchor="middle" font-weight="bold">$</text>
<text x="666.3" y="712" font-size="20" text-anchor="middle" font-weight="bold">$</text>
<g stroke="#14203f" stroke-width="2.4" stroke-linejoin="round">
  <path d="M629 704 V764 C629 771 634 776.5 641 776.5 H720 C727 776.5 732 771 732 764 V717 C732 710 727 704 720 704 Z" fill="#3a8de2"/>
  <path d="M629 704 C629 698 631 693 636 691" fill="none"/>
  <path d="M699 728 H730 C735 728 737.5 731 737.5 735 V744 C737.5 748 735 751 730 751 H711 C704.5 751 699 745.5 699 739.5 Z" fill="#5aaaf0"/>
  <circle cx="711" cy="739.5" r="4" fill="#ffffff" stroke-width="2"/>
</g>
<path d="M636 713 H718 C722 713 725 716 725 720 V727 M725 752 V765 C725 768 723 770 720 770 H640 C637 770 636 768 636 765 V713" fill="none" stroke="#14203f" stroke-width="1.8" stroke-dasharray="5 3"/>
<!-- sparkles wallet -->
<path d="M646 656 Q647 664.5 655 665.5 Q647 666.5 646 675 Q645 666.5 637 665.5 Q645 664.5 646 656 Z" fill="#4aa5e8"/>
<path d="M714.7 636 Q716 646.5 726 647.8 Q716 649 714.7 659.5 Q713.4 649 703.4 647.8 Q713.4 646.5 714.7 636 Z" fill="#3e99e6"/>
<path d="M666.3 644 V662.6 M683.4 630.7 V650" stroke="#45a6ea" stroke-width="2.2" stroke-dasharray="7 3"/>

<!-- ===== USER 2 ===== -->
<g stroke="#14203f" stroke-width="2.4" stroke-linejoin="round">
  <path d="M1005 787 V742 C1005 738 1008 736 1012 736 H1035 V712 C1035 700 1046 695 1060 691 L1066 689 H1098 L1106 691 C1120 695 1135 700 1135 712 V736 H1158 C1162 736 1165 738 1165 742 V787 Z" fill="#3d8fe3"/>
  <path d="M1042 734 V787 M1119.7 734 V787" fill="none"/>
  <path d="M1065 668 V690 C1072 699 1092 699 1099 690 V668 Z" fill="#cfe4f7"/>
  <path d="M1058 691 C1068 707 1096 707 1105 691 L1098 687 C1091 697 1073 697 1066 687 Z" fill="#ffffff"/>
  <ellipse cx="1048" cy="642" rx="6" ry="9" fill="#cfe4f7"/>
  <ellipse cx="1116" cy="642" rx="6" ry="9" fill="#cfe4f7"/>
  <path d="M1051 625 C1050 660 1062 680 1082 680 C1102 680 1114 660 1113 625 C1110 608 1098 602 1082 602 C1066 602 1054 608 1051 625 Z" fill="#dcebf8"/>
  <path d="M1046 636 C1042 620 1042 606 1046 598 C1049 592 1054 588 1058.7 585 C1058 589 1058 592 1060 594 C1066 590 1072 589 1080 590 C1092 591 1104 594 1111 602 C1117 609 1118 622 1116 636 C1113 628 1109 622 1104 617 C1096 612 1086 610 1076 610 C1066 612 1058 616 1053 621 C1051 626 1050 631 1050 636 Z" fill="#1f4a8a"/>
  <path d="M1064 599 C1074 594 1090 594 1100 599" fill="none" stroke="#3a6fb8" stroke-width="2"/>
</g>
<!-- face -->
<g fill="none" stroke="#14203f" stroke-width="2.2" stroke-linecap="round">
  <path d="M1062.6 642 C1065 637 1071 637 1073 642 M1091 642 C1093.5 637 1099 637 1101.5 642"/>
</g>
<path d="M1070 659 C1074 672 1089 672 1093 659 Z" fill="#ffffff" stroke="#14203f" stroke-width="2.2" stroke-linejoin="round"/>
<path d="M1080 651 C1081 653 1083 653 1084 651" fill="none" stroke="#14203f" stroke-width="1.6"/>
<!-- left phone (blue) -->
<g stroke="#14203f" stroke-width="2.4" stroke-linejoin="round">
  <path d="M1002 700 C998 708 999 730 1008 735 H1038 C1044 728 1040 712 1036 700 Z" fill="#dbeafa"/>
  <rect x="995.8" y="662" width="35.2" height="64" rx="5" fill="#3d8fe3"/>
  <rect x="988" y="683" width="13" height="8" rx="4" fill="#ffffff" stroke-width="2"/>
  <rect x="987" y="692" width="13" height="8" rx="4" fill="#ffffff" stroke-width="2"/>
  <rect x="987" y="701" width="13" height="8" rx="4" fill="#ffffff" stroke-width="2"/>
  <rect x="989" y="710" width="12" height="8" rx="4" fill="#ffffff" stroke-width="2"/>
</g>
<text x="1013.5" y="703" font-size="24" text-anchor="middle" font-weight="bold" style="fill:#ffffff">$</text>
<path d="M1007 672 H1020" stroke="#ffffff" stroke-width="2" stroke-dasharray="2 1"/>
<path d="M1007 715 L1013 715 L1019 705 M1006 717 H1021" fill="none" stroke="#ffffff" stroke-width="2.2"/>
<!-- right phone (white) -->
<g stroke="#14203f" stroke-width="2.4" stroke-linejoin="round">
  <path d="M1135 700 C1131 712 1132 728 1138 735 H1166 C1175 730 1176 708 1171 700 Z" fill="#dbeafa"/>
  <rect x="1135.4" y="662" width="36.6" height="68" rx="5" fill="#f2f8fe"/>
  <path d="M1135.4 673 V667 C1135.4 664 1137.5 662 1140.4 662 H1167 C1170 662 1172 664 1172 667 V673 Z" fill="#3d8fe3" stroke="none"/>
  <path d="M1135.4 720 H1172 V725 C1172 728 1170 730 1167 730 H1140.4 C1137.5 730 1135.4 728 1135.4 725 Z" fill="#3d8fe3" stroke="none"/>
  <rect x="1135.4" y="662" width="36.6" height="68" rx="5" fill="none"/>
  <path d="M1148 666.5 H1159 M1148 726 H1159" stroke-width="1.6"/>
  <rect x="1145" y="709" width="20" height="5.5" rx="2" fill="#5aaaf0" stroke-width="1.4"/>
  <rect x="1167" y="683" width="13" height="8" rx="4" fill="#ffffff" stroke-width="2"/>
  <rect x="1168" y="692" width="13" height="8" rx="4" fill="#ffffff" stroke-width="2"/>
  <rect x="1168" y="701" width="13" height="8" rx="4" fill="#ffffff" stroke-width="2"/>
  <rect x="1167" y="710" width="12" height="8" rx="4" fill="#ffffff" stroke-width="2"/>
</g>
<path d="M1143 683 C1148 680 1158 680 1164 683 C1163 692 1158 700 1152 701 C1147 699 1143 692 1143 683 Z" fill="#7fc0ef"/>
<path d="M1148 689 H1162 M1150 694 H1160" stroke="#ffffff" stroke-width="1.5"/>
<!-- coins -->
<g stroke="#14203f" stroke-width="2.4">
  <circle cx="1149.5" cy="603.5" r="18" fill="#4a9be8"/>
  <circle cx="1149.5" cy="603.5" r="14" fill="#d6eafa" stroke="#2f7fd6" stroke-width="1.6"/>
  <circle cx="1169" cy="630.8" r="18" fill="#4a9be8"/>
  <circle cx="1169" cy="630.8" r="14" fill="#d6eafa" stroke="#2f7fd6" stroke-width="1.6"/>
</g>
<text x="1149.5" y="610.5" font-size="19" text-anchor="middle" font-weight="bold">$</text>
<text x="1169" y="637.8" font-size="19" text-anchor="middle" font-weight="bold">$</text>
<!-- sparkles -->
<path d="M1183 585 V601 M1175 593 H1191" stroke="#45a6ea" stroke-width="2" stroke-dasharray="6 4"/>
<path d="M1138 635 V651 M1130 643 H1146" stroke="#45a6ea" stroke-width="2" stroke-dasharray="6 4"/>
<path d="M1008 598 C1012 596 1014 598 1016 600 C1012 606 1006 612 1000 610 Z" fill="#a9d6f3" opacity="0.8"/>
<path d="M1002.5 597 Q1003 603.5 1009 604 Q1003 604.5 1002.5 611 Q1002 604.5 996 604 Q1002 603.5 1002.5 597 Z" fill="#ffffff"/>
<path d="M1005 635 V648.6 M1013 627 V651 M1020 635 V648" stroke="#14203f" stroke-width="1.8" stroke-dasharray="5 3"/>
<!-- ground line -->
<path d="M996 787 H1178" stroke="#14203f" stroke-width="2.6" stroke-linecap="round"/>
<path d="M981 787 H988 M1186 787 H1192" stroke="#14203f" stroke-width="2.6" stroke-linecap="round"/>


<!-- money stack with up arrow -->
<path d="M1164.8 512 V491.6 H1158.7 L1169.3 478.2 L1180 491.6 H1173.6 V512 Z" fill="#4aa5ea"/>
<g stroke="#14203f" stroke-width="2.2" stroke-linejoin="round">
  <rect x="1124" y="509.3" width="56.7" height="26.9" fill="#5aaaf0"/>
  <rect x="1118.4" y="515" width="56.6" height="25.5" fill="#3d8fe3"/>
  <circle cx="1146.7" cy="527.7" r="6.4" fill="#8cc6f2"/>
  <path d="M1119.5 522 A6 6 0 0 0 1125.5 516 M1168 516 A6 6 0 0 0 1174 522 M1119.5 533.5 A6 6 0 0 1 1125.5 539.5 M1174 533.5 A6 6 0 0 0 1168 539.5" fill="none" stroke-width="1.8"/>
</g>
<circle cx="1130" cy="527.7" r="1.3" fill="#cfe5f7"/><circle cx="1162" cy="527.7" r="1.3" fill="#cfe5f7"/>
<!-- platform reflection white lines -->
<path d="M333.5 749.8 L377 777 M333.5 745 V752" stroke="#ffffff" stroke-width="2.4" stroke-linecap="round" opacity="0.9"/>


<!-- left arrow from 3 to hub -->
<path d="M991.5 483 H804 M815 474.5 L803.5 483 L815 491.5" fill="none" stroke="#14203f" stroke-width="2.6" stroke-linecap="round" stroke-linejoin="round"/>

<!-- ICONS_PLACEHOLDER -->

</svg>
</body></html>
